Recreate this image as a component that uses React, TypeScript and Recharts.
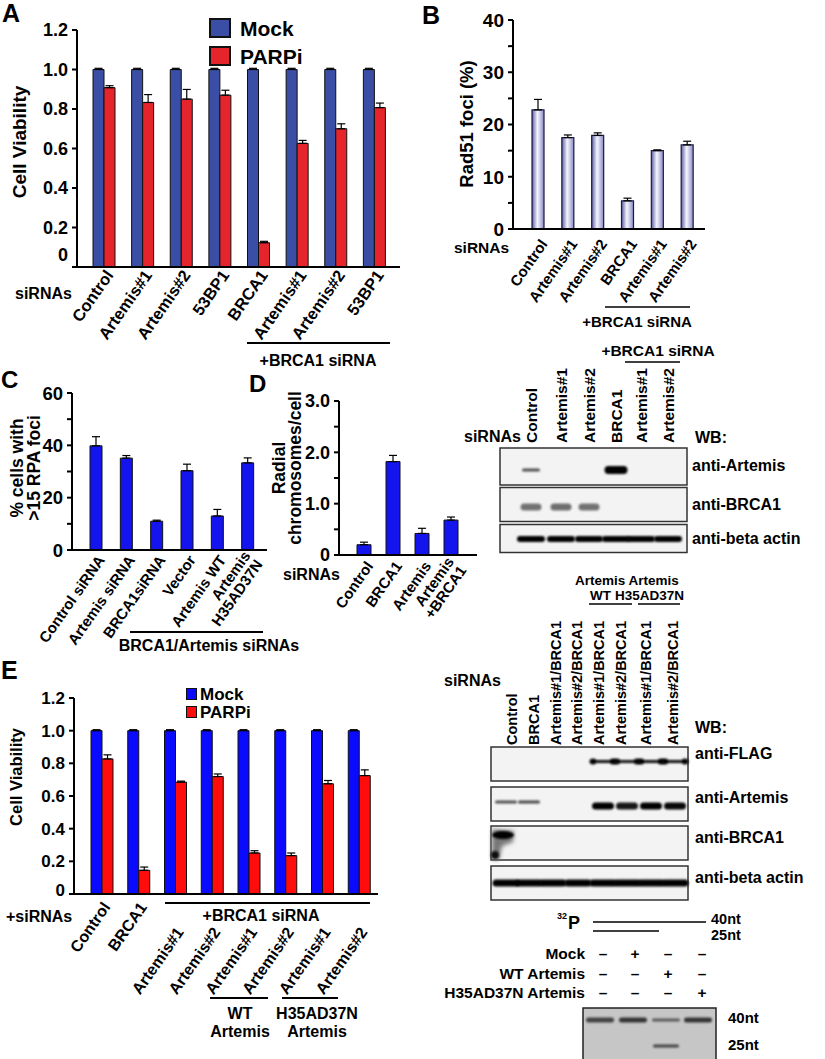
import React from "react";
import { BarChart, Bar, XAxis, YAxis, ErrorBar, Legend } from "recharts";

const FONT = "'Liberation Sans', Arial, Helvetica, sans-serif";

// ---- panel A: cell viability, siRNA screen ----
const catsA = ["Control", "Artemis#1", "Artemis#2", "53BP1", "BRCA1", "Artemis#1", "Artemis#2", "53BP1"];
const mockA = [1, 1, 1, 1, 1, 1, 1, 1];
const mockErrA = [0.006, 0.006, 0.006, 0.006, 0.006, 0.006, 0.006, 0.006];
const parpA = [0.908, 0.833, 0.85, 0.87, 0.123, 0.626, 0.7, 0.807];
const parpErrA = [0.01, 0.04, 0.049, 0.025, 0.007, 0.015, 0.025, 0.023];
const ticksA = [0, 0.2, 0.4, 0.6, 0.8, 1.0, 1.2];

// ---- panel B: Rad51 foci ----
const catsB = ["Control", "Artemis#1", "Artemis#2", "BRCA1", "Artemis#1", "Artemis#2"];
const fociB = [22.8, 17.5, 17.9, 5.4, 15.0, 16.1];
const fociErrB = [2.0, 0.5, 0.5, 0.5, 0.15, 0.7];
const ticksB = [0, 5, 10, 15, 20, 25, 30, 35, 40];

// ---- panel C: RPA foci ----
const catsC = ["Control siRNA", "Artemis siRNA", "BRCA1siRNA", "Vector", "Artemis WT", "Artemis\nH35AD37N"];
const rpaC = [39.8, 35.1, 11.0, 30.3, 13.0, 33.3];
const rpaErrC = [3.5, 1.0, 0.4, 2.5, 2.5, 1.9];
const ticksC = [0, 10, 20, 30, 40, 50, 60];

// ---- panel D: radial chromosomes ----
const catsD = ["Control", "BRCA1", "Artemis", "Artemis\n+BRCA1"];
const radialD = [0.2, 1.82, 0.42, 0.68];
const radialErrD = [0.05, 0.12, 0.1, 0.06];
const ticksD = [0, 0.5, 1, 1.5, 2, 2.5, 3];

// ---- panel E: rescue viability ----
const catsE = ["Control", "BRCA1", "Artemis#1", "Artemis#2", "Artemis#1", "Artemis#2", "Artemis#1", "Artemis#2"];
const mockE = [1, 1, 1, 1, 1, 1, 1, 1];
const mockErrE = [0.006, 0.006, 0.006, 0.006, 0.006, 0.006, 0.006, 0.006];
const parpE = [0.827, 0.145, 0.685, 0.719, 0.251, 0.235, 0.675, 0.725];
const parpErrE = [0.025, 0.02, 0.006, 0.016, 0.014, 0.016, 0.02, 0.035];

// ---- blots ----
const lanesD = ["Control", "Artemis#1", "Artemis#2", "BRCA1", "Artemis#1", "Artemis#2"];
const artemisBandD = [0.5, 0, 0, 1, 0, 0];
const brca1BandD = [0.55, 0.6, 0.55, 0, 0, 0];
const actinBandD = [1, 1, 1, 1, 1, 1];

const lanesE = ["Control", "BRCA1", "Artemis#1/BRCA1", "Artemis#2/BRCA1", "Artemis#1/BRCA1", "Artemis#2/BRCA1", "Artemis#1/BRCA1", "Artemis#2/BRCA1"];
const flagBandE = [0, 0, 0, 0, 1, 0.9, 1, 1];
const artemisBandE = [0.5, 0.55, 0, 0, 1, 0.85, 1, 0.95];
const actinBandE = [1, 1, 1, 1, 1, 1, 1, 1];

const assayRows = ["Mock", "WT Artemis", "H35AD37N Artemis"];
const assaySigns = [
  ["–", "+", "–", "–"],
  ["–", "–", "+", "–"],
  ["–", "–", "–", "+"],
];
const gel40 = [0.7, 0.85, 0.45, 0.85];
const gel25 = [0, 0, 0.7, 0];

const withErr = (vals: number[], errs: number[]) => vals.map((v, i) => ({ i, v, err: [0, errs[i]] }));

const dataA = catsA.map((_, i) => ({ i, mock: mockA[i], mockErr: [0, mockErrA[i]], parp: parpA[i], parpErr: [0, parpErrA[i]] }));
const dataE = catsE.map((_, i) => ({ i, mock: mockE[i], mockErr: [0, mockErrE[i]], parp: parpE[i], parpErr: [0, parpErrE[i]] }));
const dataB = withErr(fociB, fociErrB);
const dataC = withErr(rpaC, rpaErrC);
const dataD = withErr(radialD, radialErrD);

const axisLine = { stroke: "#000", strokeWidth: 2 };

function AngledTick(props: any) {
  const { x, y, payload, index, labels, fs = 15, dx = 4, dy = 6, shiftFrom = 99, shift = 0 } = props;
  const lines = String(labels[payload.value]).split("\n");
  const extra = index >= shiftFrom ? shift : 0;
  return (
    <g transform={`translate(${x + dx},${y + dy + extra})`}>
      <text transform="rotate(-55)" textAnchor="end" fontSize={fs} fontWeight="bold" fill="#000" fontFamily={FONT}>
        {lines.map((l, k) => (
          <tspan key={k} x={0} dy={k === 0 ? (lines.length > 1 ? "-0.15em" : "0.35em") : "1.0em"}>
            {l}
          </tspan>
        ))}
      </text>
    </g>
  );
}

function YTick(props: any) {
  const { x, y, payload, fmt, fs = 15, zeroDy = 0 } = props;
  const label = fmt(payload.value);
  if (!label) return null;
  return (
    <text x={x} y={y + (payload.value === 0 ? zeroDy : 0)} dy="0.36em" textAnchor="end" fontSize={fs} fontWeight="bold" fill="#000" fontFamily={FONT}>
      {label}
    </text>
  );
}

function SwatchLegend({ payload, box, fs, row, border, gap }: any) {
  return (
    <div style={{ fontFamily: FONT }}>
      {(payload || []).map((p: any) => (
        <div key={p.value} style={{ display: "flex", alignItems: "center", height: row }}>
          <span style={{ display: "inline-block", width: box[0], height: box[1], background: p.color, border: `${border}px solid #111`, boxSizing: "border-box" }} />
          <span style={{ marginLeft: gap, fontSize: fs, fontWeight: "bold", color: "#000", lineHeight: 1 }}>{p.value}</span>
        </div>
      ))}
    </div>
  );
}

const fmt1 = (v: number) => (v === 0 ? "0" : v.toFixed(1));

function ChartA() {
  return (
    <div style={{ position: "absolute", left: 0, top: 0 }}>
      <BarChart width={420} height={345} data={dataA} margin={{ top: 30, right: 20, left: 0, bottom: 0 }} barGap={0} barSize={11}>
        <XAxis dataKey="i" type="category" height={78} padding={{ left: 8, right: 6 }} axisLine={axisLine} tickLine={false} tickSize={0} tickMargin={0} interval={0}
          tick={(p: any) => <AngledTick {...p} labels={catsA} fs={16.5} dx={5} dy={5} />} />
        <YAxis width={77} domain={[0, 1.2]} ticks={ticksA} interval={0} axisLine={axisLine} tickLine={{ stroke: "#000", strokeWidth: 2 }} tickSize={5} tickMargin={4}
          tick={(p: any) => <YTick {...p} fmt={fmt1} fs={18} zeroDy={-12} />} />
        <Legend layout="vertical" align="center" verticalAlign="middle" wrapperStyle={{ top: 14, left: 209, width: 120 }}
          content={(p: any) => <SwatchLegend payload={p.payload} box={[22, 20]} fs={21} row={28} border={2} gap={9} />} />
        <Bar dataKey="mock" name="Mock" fill="#3a4ea6" stroke="#111" strokeWidth={1} isAnimationActive={false}>
          <ErrorBar dataKey="mockErr" width={4} stroke="#000" strokeWidth={1.2} />
        </Bar>
        <Bar dataKey="parp" name="PARPi" fill="#e6242b" stroke="#111" strokeWidth={1} isAnimationActive={false}>
          <ErrorBar dataKey="parpErr" width={4} stroke="#000" strokeWidth={1.2} />
        </Bar>
      </BarChart>
    </div>
  );
}

function ChartB() {
  return (
    <div style={{ position: "absolute", left: 420, top: 0 }}>
      <BarChart width={300} height={335} data={dataB} margin={{ top: 20, right: 15, left: 0, bottom: 0 }} barSize={12}>
        <defs>
          <linearGradient id="lavB" x1="0" x2="1" y1="0" y2="0">
            <stop offset="0%" stopColor="#5c5ca0" />
            <stop offset="45%" stopColor="#f6f6ff" />
            <stop offset="100%" stopColor="#8a8ac6" />
          </linearGradient>
        </defs>
        <XAxis dataKey="i" type="category" height={106} padding={{ left: 10, right: 3 }} axisLine={axisLine} tickLine={false} tickSize={0} tickMargin={0} interval={0}
          tick={(p: any) => <AngledTick {...p} labels={catsB} fs={15} dx={6} dy={12} />} />
        <YAxis width={93} domain={[0, 40]} ticks={ticksB} interval={0} axisLine={axisLine} tickLine={{ stroke: "#000", strokeWidth: 2 }} tickSize={5} tickMargin={4}
          tick={(p: any) => <YTick {...p} fmt={(v: number) => (v % 10 === 0 ? String(v) : "")} fs={19} />} />
        <Bar dataKey="v" fill="url(#lavB)" stroke="#1a1a44" strokeWidth={1.2} isAnimationActive={false}>
          <ErrorBar dataKey="err" width={4} stroke="#000" strokeWidth={1.2} />
        </Bar>
      </BarChart>
    </div>
  );
}

function ChartC() {
  return (
    <div style={{ position: "absolute", left: 0, top: 340 }}>
      <BarChart width={280} height={310} data={dataC} margin={{ top: 53, right: 13, left: 0, bottom: 0 }} barSize={12}>
        <XAxis dataKey="i" type="category" height={100} padding={{ left: 9, right: 4 }} axisLine={axisLine} tickLine={false} tickSize={0} tickMargin={0} interval={0}
          tick={(p: any) => <AngledTick {...p} labels={catsC} fs={15} dx={5} dy={7} />} />
        <YAxis width={72} domain={[0, 60]} ticks={ticksC} interval={0} axisLine={axisLine} tickLine={{ stroke: "#000", strokeWidth: 2 }} tickSize={5} tickMargin={4}
          tick={(p: any) => <YTick {...p} fmt={(v: number) => (v % 20 === 0 ? String(v) : "")} fs={18.5} />} />
        <Bar dataKey="v" fill="#1414ee" stroke="#111" strokeWidth={1} isAnimationActive={false}>
          <ErrorBar dataKey="err" width={4} stroke="#000" strokeWidth={1.2} />
        </Bar>
      </BarChart>
    </div>
  );
}

function ChartD() {
  return (
    <div style={{ position: "absolute", left: 250, top: 340 }}>
      <BarChart width={240} height={320} data={dataD} margin={{ top: 61, right: 13, left: 0, bottom: 0 }} barSize={14}>
        <XAxis dataKey="i" type="category" height={105} padding={{ left: 10, right: 12 }} axisLine={axisLine} tickLine={false} tickSize={0} tickMargin={0} interval={0}
          tick={(p: any) => <AngledTick {...p} labels={catsD} fs={15} dx={6} dy={8} />} />
        <YAxis width={89} domain={[0, 3]} ticks={ticksD} interval={0} axisLine={axisLine} tickLine={{ stroke: "#000", strokeWidth: 2 }} tickSize={5} tickMargin={4}
          tick={(p: any) => <YTick {...p} fmt={(v: number) => (v % 1 === 0 ? fmt1(v) : "")} fs={18} />} />
        <Bar dataKey="v" fill="#1414ee" stroke="#111" strokeWidth={1} isAnimationActive={false}>
          <ErrorBar dataKey="err" width={4} stroke="#000" strokeWidth={1.2} />
        </Bar>
      </BarChart>
    </div>
  );
}

function ChartE() {
  return (
    <div style={{ position: "absolute", left: 0, top: 590 }}>
      <BarChart width={400} height={455} data={dataE} margin={{ top: 108, right: 22, left: 0, bottom: 0 }} barGap={0} barSize={11}>
        <XAxis dataKey="i" type="category" height={151} padding={{ left: 10, right: 0 }} axisLine={axisLine} tickLine={false} tickSize={0} tickMargin={0} interval={0}
          tick={(p: any) => <AngledTick {...p} labels={catsE} fs={16} dx={4} dy={10} shiftFrom={2} shift={25} />} />
        <YAxis width={74} domain={[0, 1.2]} ticks={ticksA} interval={0} axisLine={axisLine} tickLine={{ stroke: "#000", strokeWidth: 2 }} tickSize={5} tickMargin={4}
          tick={(p: any) => <YTick {...p} fmt={fmt1} fs={17} zeroDy={-4} />} />
        <Legend layout="vertical" align="center" verticalAlign="middle" wrapperStyle={{ top: 95, left: 186, width: 100 }}
          content={(p: any) => <SwatchLegend payload={p.payload} box={[11, 12]} fs={17} row={18} border={1} gap={3} />} />
        <Bar dataKey="mock" name="Mock" fill="#0a0aff" stroke="#111" strokeWidth={1} isAnimationActive={false}>
          <ErrorBar dataKey="mockErr" width={4} stroke="#000" strokeWidth={1.2} />
        </Bar>
        <Bar dataKey="parp" name="PARPi" fill="#ff0d0d" stroke="#111" strokeWidth={1} isAnimationActive={false}>
          <ErrorBar dataKey="parpErr" width={4} stroke="#000" strokeWidth={1.2} />
        </Bar>
      </BarChart>
    </div>
  );
}

function Tx({ x, y, t, fs = 15, anchor = "start", rot = 0, central = false }: any) {
  return (
    <text transform={`translate(${x},${y})${rot ? ` rotate(${rot})` : ""}`} textAnchor={anchor} dominantBaseline={central ? "central" : "auto"}
      fontSize={fs} fontWeight="bold" fill="#000" fontFamily={FONT}>
      {t}
    </text>
  );
}

function Band({ cx, cy, w, h, v }: any) {
  if (!v) return null;
  return <rect x={cx - w / 2} y={cy - h / 2} width={w} height={h} rx={h / 2} fill="#000" opacity={Math.min(1, 0.35 + 0.65 * v)} filter="url(#soft)" />;
}

function Overlay() {
  const laneXD = [531, 561, 589, 616, 641, 668];
  const labelXE = [512, 534, 556, 577, 599, 621, 646, 673];
  const laneXE = [506, 529, 553, 578, 603, 627, 651, 675];
  const signX = [603, 635, 668, 702];
  const gelX = [600, 633, 666, 698];
  return (
    <svg width={825} height={1059} style={{ position: "absolute", left: 0, top: 0, pointerEvents: "none" }}>
      <defs>
        <filter id="soft" x="-20%" y="-60%" width="140%" height="220%">
          <feGaussianBlur stdDeviation="0.9" />
        </filter>
        <filter id="smear" x="-30%" y="-30%" width="160%" height="160%">
          <feGaussianBlur stdDeviation="2" />
        </filter>
      </defs>

      {/* panel A */}
      <Tx x={2} y={22} t="A" fs={25} />
      <Tx x={19} y={142} t="Cell Viability" fs={19} rot={-90} anchor="middle" central />
      <Tx x={15} y={299} t="siRNAs" fs={16} />
      <line x1={247} x2={390} y1={343} y2={343} stroke="#000" strokeWidth={2} />
      <Tx x={318} y={366} t="+BRCA1 siRNA" fs={16} anchor="middle" />

      {/* panel B */}
      <Tx x={422} y={24} t="B" fs={25} />
      <Tx x={466} y={124} t="Rad51 foci (%)" fs={18.5} rot={-90} anchor="middle" central />
      <Tx x={454} y={253} t="siRNAs" fs={15.5} />
      <line x1={605} x2={690} y1={307} y2={307} stroke="#000" strokeWidth={1.5} />
      <Tx x={637} y={327} t="+BRCA1 siRNA" fs={15} anchor="middle" />

      {/* panel C */}
      <Tx x={1} y={388} t="C" fs={24} />
      <Tx x={17} y={468} t="% cells with" fs={17.5} rot={-90} anchor="middle" central />
      <Tx x={34} y={468} t=">15 RPA foci" fs={17.5} rot={-90} anchor="middle" central />
      <line x1={130} x2={263} y1={632} y2={632} stroke="#000" strokeWidth={2} />
      <Tx x={209} y={651} t="BRCA1/Artemis siRNAs" fs={16} anchor="middle" />

      {/* panel D */}
      <Tx x={249} y={392} t="D" fs={24} />
      <Tx x={279} y={468} t="Radial" fs={17.5} rot={-90} anchor="middle" central />
      <Tx x={295} y={468} t="chromosomes/cell" fs={17.5} rot={-90} anchor="middle" central />
      <Tx x={283} y={580} t="siRNAs" fs={16} />

      {/* blot D */}
      <Tx x={658} y={356} t="+BRCA1 siRNA" fs={15.5} anchor="middle" />
      <line x1={625} x2={680} y1={362} y2={362} stroke="#000" strokeWidth={1.5} />
      <Tx x={464} y={442} t="siRNAs" fs={16} />
      {lanesD.map((l, k) => (
        <Tx key={k} x={laneXD[k]} y={443} t={l} fs={15.5} rot={-90} central />
      ))}
      <Tx x={695} y={443} t="WB:" fs={16} />
      {[
        { y0: 448, y1: 485, t: "anti-Artemis", ly: 471 },
        { y0: 487.5, y1: 521.5, t: "anti-BRCA1", ly: 510 },
        { y0: 524.5, y1: 552.5, t: "anti-beta actin", ly: 544 },
      ].map((b, k) => (
        <g key={k}>
          <rect x={500} y={b.y0} width={187} height={b.y1 - b.y0} fill="#f3f3f3" stroke="#333" strokeWidth={1.5} />
          <Tx x={692} y={b.ly} t={b.t} fs={16} />
        </g>
      ))}
      {artemisBandD.map((v, k) => (
        <Band key={"a" + k} cx={laneXD[k]} cy={470} w={v > 0.8 ? 23 : 18} h={v > 0.8 ? 8 : 3} v={v} />
      ))}
      {brca1BandD.map((v, k) => (
        <Band key={"b" + k} cx={laneXD[k]} cy={507} w={21} h={7} v={v * 0.5} />
      ))}
      {actinBandD.map((v, k) => (
        <Band key={"c" + k} cx={laneXD[k]} cy={539} w={28} h={6} v={v} />
      ))}

      {/* blot E */}
      <Tx x={575} y={585} t="Artemis Artemis" fs={13.5} />
      <Tx x={590} y={600} t="WT" fs={13.5} />
      <Tx x={615} y={600} t="H35AD37N" fs={13.5} />
      <line x1={589} x2={632} y1={604} y2={604} stroke="#000" strokeWidth={1.5} />
      <line x1={638} x2={680} y1={604} y2={604} stroke="#000" strokeWidth={1.5} />
      <Tx x={444} y={686} t="siRNAs" fs={16} />
      {lanesE.map((l, k) => (
        <Tx key={k} x={labelXE[k]} y={745} t={l} fs={14.5} rot={-90} central />
      ))}
      <Tx x={695} y={733} t="WB:" fs={16} />
      {[
        { y0: 747, y1: 781, t: "anti-FLAG", ly: 759 },
        { y0: 787, y1: 821, t: "anti-Artemis", ly: 803 },
        { y0: 826, y1: 860, t: "anti-BRCA1", ly: 843 },
        { y0: 866, y1: 900, t: "anti-beta actin", ly: 883 },
      ].map((b, k) => (
        <g key={k}>
          <rect x={491} y={b.y0} width={197} height={b.y1 - b.y0} fill="#f3f3f3" stroke="#333" strokeWidth={1.5} />
          <Tx x={695} y={b.ly} t={b.t} fs={16} />
        </g>
      ))}
      {flagBandE.map((v, k) =>
        v ? (
          <g key={"f" + k} filter="url(#soft)" opacity={0.7 + 0.3 * v}>
            <rect x={laneXE[k] - 11} y={760} width={22} height={3} fill="#111" />
            <ellipse cx={laneXE[k] - 10} cy={761.5} rx={3.5} ry={3} fill="#000" />
            <ellipse cx={laneXE[k] + 10} cy={761.5} rx={3.5} ry={3} fill="#000" />
          </g>
        ) : null
      )}
      {artemisBandE.map((v, k) => (
        <Band key={"ae" + k} cx={laneXE[k]} cy={v > 0.8 ? 806 : 802} w={22} h={v > 0.8 ? 7 : 3} v={v} />
      ))}
      <g filter="url(#smear)">
        <path d="M492,829 L514,831 L513,842 L502,846 L499,860 L492,860 Z" fill="#777" />
      </g>
      <ellipse cx={503} cy={835} rx={11} ry={4} fill="#000" filter="url(#soft)" />
      <ellipse cx={495} cy={855} rx={4} ry={4} fill="#111" filter="url(#soft)" />
      {actinBandE.map((v, k) => (
        <Band key={"ce" + k} cx={laneXE[k]} cy={883} w={27} h={7} v={v} />
      ))}

      {/* nuclease assay */}
      <Tx x={557} y={919} t="32" fs={9} />
      <Tx x={568} y={929} t="P" fs={18} />
      <line x1={593} x2={706} y1={922} y2={922} stroke="#000" strokeWidth={1.5} />
      <line x1={593} x2={659} y1={931} y2={931} stroke="#000" strokeWidth={1.5} />
      <Tx x={711} y={924} t="40nt" fs={14.5} />
      <Tx x={711} y={940} t="25nt" fs={14.5} />
      {assayRows.map((r, k) => (
        <g key={r}>
          <Tx x={585} y={959 + k * 19.5} t={r} fs={15.5} anchor="end" />
          {assaySigns[k].map((s, j) => (
            <Tx key={j} x={signX[j]} y={959 + k * 19.5} t={s} fs={15.5} anchor="middle" />
          ))}
        </g>
      ))}
      <rect x={583} y={1008} width={133} height={56} fill="#c6c6c6" stroke="#222" strokeWidth={1.5} />
      {gel40.map((v, k) => (
        <Band key={"g4" + k} cx={gelX[k]} cy={1020} w={28} h={v > 0.6 ? 5 : 3} v={v * 0.7} />
      ))}
      {gel25.map((v, k) => (
        <Band key={"g2" + k} cx={gelX[k]} cy={1046} w={26} h={3} v={v * 0.7} />
      ))}
      <Tx x={728} y={1023} t="40nt" fs={15} />
      <Tx x={728} y={1050} t="25nt" fs={15} />

      {/* panel E */}
      <Tx x={1} y={679} t="E" fs={25} />
      <Tx x={16} y={777} t="Cell Viability" fs={16.5} rot={-90} anchor="middle" central />
      <Tx x={6} y={922} t="+siRNAs" fs={16} />
      <line x1={165} x2={370} y1={903} y2={903} stroke="#000" strokeWidth={2} />
      <Tx x={261} y={921} t="+BRCA1 siRNA" fs={16} anchor="middle" />
      <line x1={210} x2={268} y1={998} y2={998} stroke="#000" strokeWidth={2} />
      <line x1={282} x2={338} y1={998} y2={998} stroke="#000" strokeWidth={2} />
      <Tx x={240} y={1019} t="WT" fs={16} anchor="middle" />
      <Tx x={240} y={1037} t="Artemis" fs={16} anchor="middle" />
      <Tx x={317} y={1019} t="H35AD37N" fs={16} anchor="middle" />
      <Tx x={317} y={1037} t="Artemis" fs={16} anchor="middle" />
    </svg>
  );
}

export default function App() {
  return (
    <div style={{ position: "absolute", left: 0, top: 0, width: 825, height: 1059, background: "#fff", fontFamily: FONT, overflow: "hidden" }}>
      <ChartA />
      <ChartB />
      <ChartC />
      <ChartD />
      <ChartE />
      <Overlay />
    </div>
  );
}
